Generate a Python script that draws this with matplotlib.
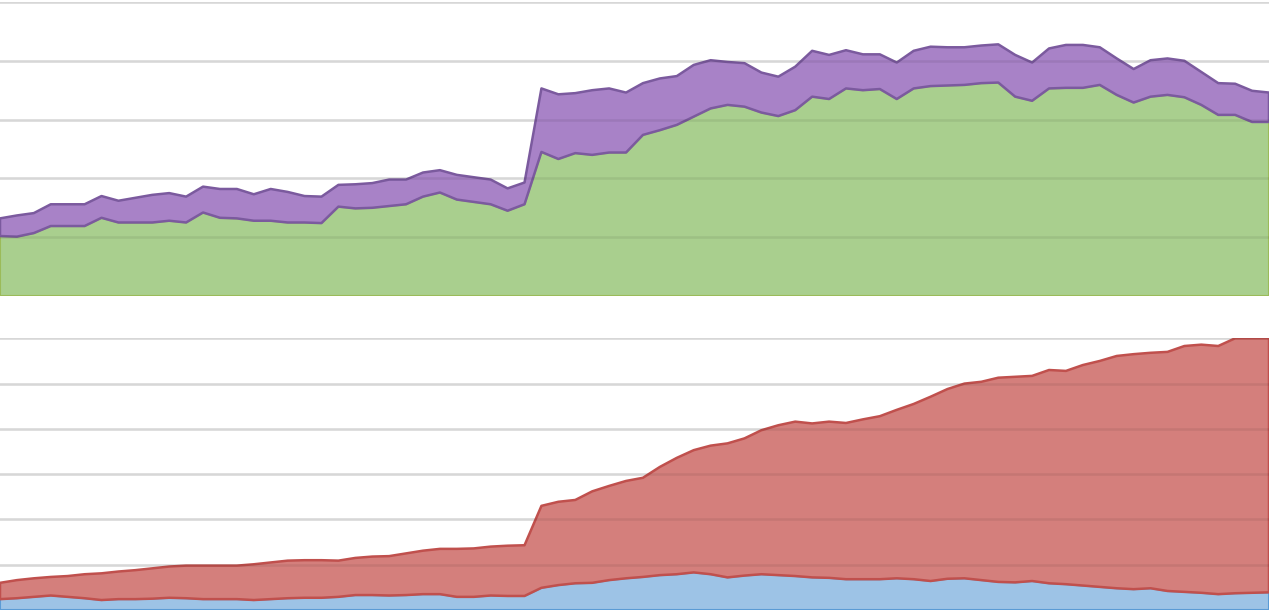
import numpy as np
import matplotlib.pyplot as plt

# top panel: stacked (green bottom, purple on top), totals
green_top = [102, 101, 107, 119, 119, 119, 133, 125, 125, 125, 128, 125, 142, 133, 132, 128,
             128, 125, 125, 124, 152, 149, 150, 153, 156, 169, 176, 164, 160, 156, 145, 156,
             245, 233, 243, 240, 244, 244, 274, 282, 291, 305, 319, 325, 322, 312, 306, 316,
             339, 335, 353, 350, 352, 335, 353, 357, 358, 359, 362, 363, 339, 332, 353, 354,
             354, 359, 342, 329, 339, 342, 338, 325, 308, 308, 296, 296]
purple_top = [132, 137, 141, 156, 156, 156, 170, 162, 167, 172, 175, 169, 186, 182, 182, 173,
              182, 177, 170, 169, 189, 190, 192, 198, 198, 210, 214, 206, 202, 198, 183, 193,
              353, 343, 345, 350, 353, 346, 362, 370, 374, 393, 401, 398, 396, 380, 373, 390,
              417, 410, 418, 411, 411, 397, 417, 424, 423, 423, 426, 428, 410, 397, 421, 427,
              427, 423, 404, 386, 401, 404, 400, 381, 362, 361, 349, 346]

# bottom panel: stacked (blue bottom, red on top)
blue_vals = [24, 26, 29, 32, 29, 26, 22, 24, 24, 25, 27, 26, 24, 24, 24, 22,
             24, 26, 27, 27, 29, 33, 33, 32, 33, 35, 35, 29, 29, 32, 31, 31,
             49, 55, 59, 60, 66, 70, 73, 77, 79, 83, 79, 72, 76, 79, 77, 75,
             72, 71, 68, 68, 68, 70, 68, 64, 69, 70, 66, 62, 61, 64, 59, 57,
             54, 51, 48, 46, 48, 42, 40, 38, 35, 37, 38, 39]
red_top = [60, 66, 70, 73, 75, 79, 81, 85, 88, 92, 96, 98, 98, 98, 98, 101,
           105, 109, 110, 110, 109, 115, 118, 119, 125, 131, 135, 135, 136, 140, 142, 143,
           230, 239, 243, 262, 274, 285, 292, 316, 336, 353, 363, 368, 379, 397, 408, 416,
           412, 416, 413, 421, 428, 442, 455, 471, 488, 500, 504, 513, 515, 517, 530, 528,
           541, 550, 561, 565, 568, 570, 583, 586, 583, 600, 600, 600]

x = np.arange(len(green_top))
green = np.array(green_top)
purple = np.array(purple_top) - green
blue = np.array(blue_vals)
red = np.array(red_top) - blue

fig = plt.figure(figsize=(12.69, 6.12), dpi=100)
ax1 = fig.add_axes([0, 316 / 612, 1, 294 / 612])
ax2 = fig.add_axes([0, 2 / 612, 1, 271.7 / 612])


def stack(ax, lower, upper, c_low, e_low, c_up, e_up, ymax, step):
    for g in np.arange(step, ymax + 1, step):
        ax.axhline(g, color='#e8e8e8', linewidth=1.8, zorder=1)
        # faint line showing through the filled areas
        ax.axhline(g, color=(0, 0, 0, 0.07), linewidth=1.8, zorder=4)
    ax.fill_between(x, 0, lower, facecolor=c_low, edgecolor=e_low, linewidth=1.5, zorder=2)
    ax.fill_between(x, lower, lower + upper, facecolor=c_up, edgecolor=e_up, linewidth=1.8, zorder=3)
    ax.set_xlim(x[0], x[-1])
    ax.set_ylim(0, ymax)
    ax.axis('off')


stack(ax1, green, purple, '#a9cf8e', '#9bbb59', '#a882c7', '#7b5a9e', 500, 100)
stack(ax2, blue, red, '#9dc3e6', '#5b9bd5', '#d47f7c', '#c0504d', 600, 100)

fig.savefig('out.png', dpi=100)
